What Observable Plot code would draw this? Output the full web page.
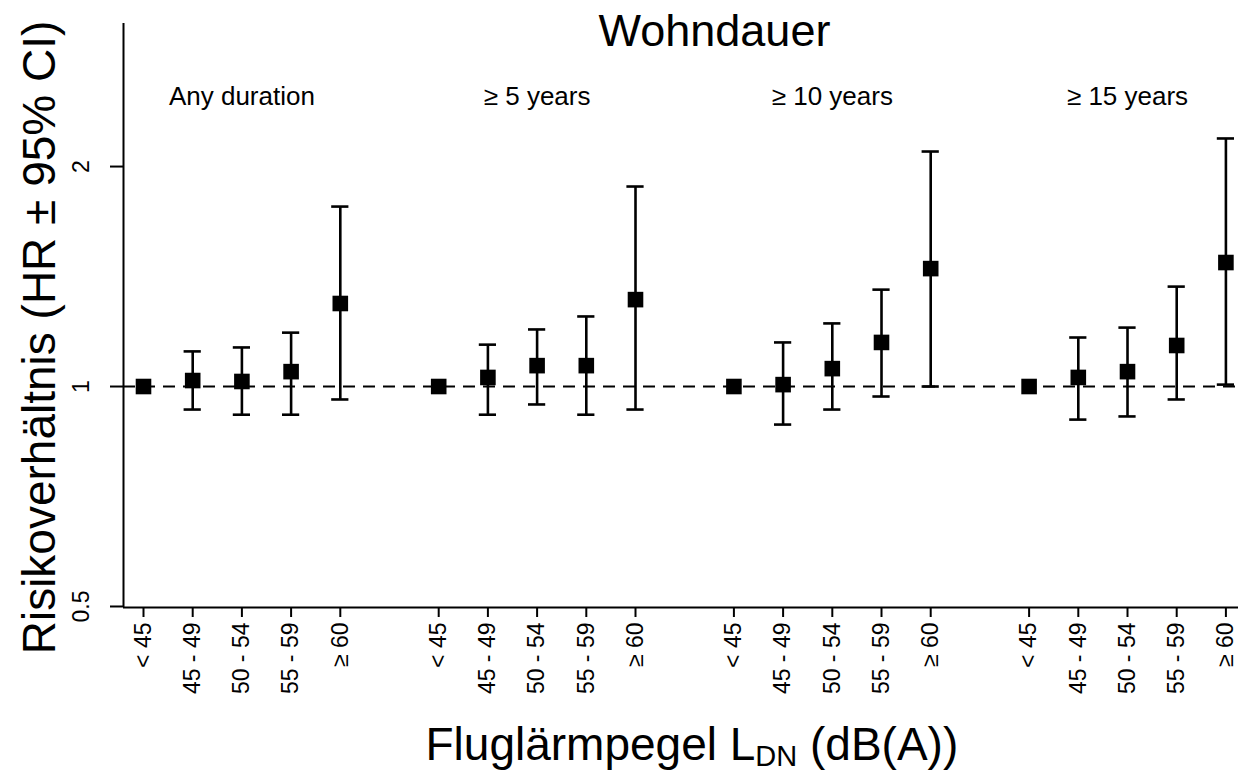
<!DOCTYPE html>
<html><head><meta charset="utf-8">
<script src="https://cdn.jsdelivr.net/npm/d3@7"></script>
<script src="https://cdn.jsdelivr.net/npm/@observablehq/plot@0.6"></script>
<style>body{margin:0;background:#fff} svg{display:block}</style>
</head><body><div id="chart"></div>
<script>
// ---- data ----
const groups = ["Any duration", "\u2265 5 years", "\u2265 10 years", "\u2265 15 years"];
const levels = ["< 45", "45 - 49", "50 - 54", "55 - 59", "\u2265 60"];
const hrAny = [1.000, 1.019, 1.016, 1.048, 1.299];
const loAny = [null, 0.930, 0.915, 0.915, 0.960];
const hiAny = [null, 1.117, 1.131, 1.185, 1.763];
const hr5   = [1.000, 1.029, 1.068, 1.068, 1.315];
const lo5   = [null, 0.915, 0.945, 0.915, 0.930];
const hi5   = [null, 1.141, 1.197, 1.247, 1.878];
const hr10  = [1.000, 1.006, 1.058, 1.149, 1.450];
const lo10  = [null, 0.887, 0.930, 0.969, 1.000];
const hi10  = [null, 1.149, 1.220, 1.357, 2.097];
const hr15  = [1.000, 1.029, 1.048, 1.138, 1.478];
const lo15  = [null, 0.901, 0.910, 0.960, 1.006];
const hi15  = [null, 1.167, 1.204, 1.370, 2.185];
const yTicks = [0.5, 1, 2];
const title = "Wohndauer";
const yLabel = "Risikoverh\u00e4ltnis (HR \u00b1 95% CI)";
const xLabel = "Flugl\u00e4rmpegel LDN (dB(A))";

// ---- build table ----
const series = [[hrAny, loAny, hiAny], [hr5, lo5, hi5], [hr10, lo10, hi10], [hr15, lo15, hi15]];
const rows = [];
series.forEach(([hr, lo, hi], g) => {
  levels.forEach((lev, l) => {
    rows.push({group: groups[g], level: lev, pos: g * (levels.length + 1) + l, hr: hr[l], lo: lo[l], hi: hi[l]});
  });
});
const ci = rows.filter(d => d.lo != null);
const groupRows = groups.map((g, i) => ({label: g, pos: i * (levels.length + 1) + (levels.length - 1) / 2}));

const xDomain = [-0.4065, 22.256];
const yDomain = [0.4984, 3.139];
const cap = 0.175;
const ink = "#000";

const chart = Plot.plot({
  width: 1238, height: 776,
  marginLeft: 123, marginRight: 0, marginTop: 23, marginBottom: 169,
  style: {fontFamily: "'Liberation Sans', Arial, Helvetica, sans-serif", color: ink, background: "#fff"},
  x: {domain: xDomain, label: null},
  y: {type: "log", domain: yDomain, label: null},
  marks: [
    Plot.ruleY([1], {stroke: ink, strokeWidth: 1.8, strokeDasharray: "12,8"}),
    Plot.ruleX([xDomain[0]], {stroke: ink, strokeWidth: 2}),
    Plot.ruleY([yDomain[0]], {stroke: ink, strokeWidth: 2}),
    Plot.axisY({ticks: yTicks, tickSize: 13, tickFormat: () => "", strokeWidth: 2, stroke: ink, label: null}),
    Plot.text(yTicks, {y: d => d, text: d => String(d), frameAnchor: "left", rotate: -90, textAnchor: "middle", lineAnchor: "middle", dx: -42, fontSize: 23, fill: ink}),
    Plot.axisX({ticks: rows.map(d => d.pos), tickSize: 10, tickFormat: () => "", strokeWidth: 2, stroke: ink, label: null}),
    Plot.text(rows, {x: "pos", text: "level", frameAnchor: "bottom", rotate: -90, textAnchor: "end", lineAnchor: "middle", dy: 15, fontSize: 23, fill: ink}),
    Plot.ruleX(ci, {x: "pos", y1: "lo", y2: "hi", stroke: ink, strokeWidth: 2.6}),
    Plot.ruleY(ci, {y: "lo", x1: d => d.pos - cap, x2: d => d.pos + cap, stroke: ink, strokeWidth: 2.6}),
    Plot.ruleY(ci, {y: "hi", x1: d => d.pos - cap, x2: d => d.pos + cap, stroke: ink, strokeWidth: 2.6}),
    Plot.dot(rows, {x: "pos", y: "hr", symbol: "square", r: 8.8, fill: ink, stroke: "none"}),
    Plot.text(groupRows, {x: "pos", text: "label", frameAnchor: "top", textAnchor: "middle", lineAnchor: "middle", dy: 72.7, fontSize: 26, fill: ink}),
    Plot.text([title], {text: d => d, frameAnchor: "top", textAnchor: "middle", lineAnchor: "middle", dx: 33.5, dy: 7.6, fontSize: 45, fill: ink}),
    Plot.text([yLabel], {text: d => d, frameAnchor: "left", rotate: -90, textAnchor: "middle", lineAnchor: "middle", dx: -83, dy: 22, fontSize: 46, fill: ink}),
    Plot.text([xLabel], {text: d => d, frameAnchor: "bottom", textAnchor: "start", lineAnchor: "middle", dx: -255.5, dy: 138, fontSize: 46, fill: ink})
  ]
});
document.getElementById("chart").appendChild(chart);

// subscript for L_DN
d3.select(chart).selectAll("text").filter(function() { return this.textContent === xLabel; }).each(function() {
  const t = d3.select(this);
  t.text(null);
  t.append("tspan").text("Flugl\u00e4rmpegel L");
  t.append("tspan").attr("dy", 6).attr("font-size", 29).text("DN");
  t.append("tspan").attr("dy", -6).text(" (dB(A))");
});
</script>
</body></html>
